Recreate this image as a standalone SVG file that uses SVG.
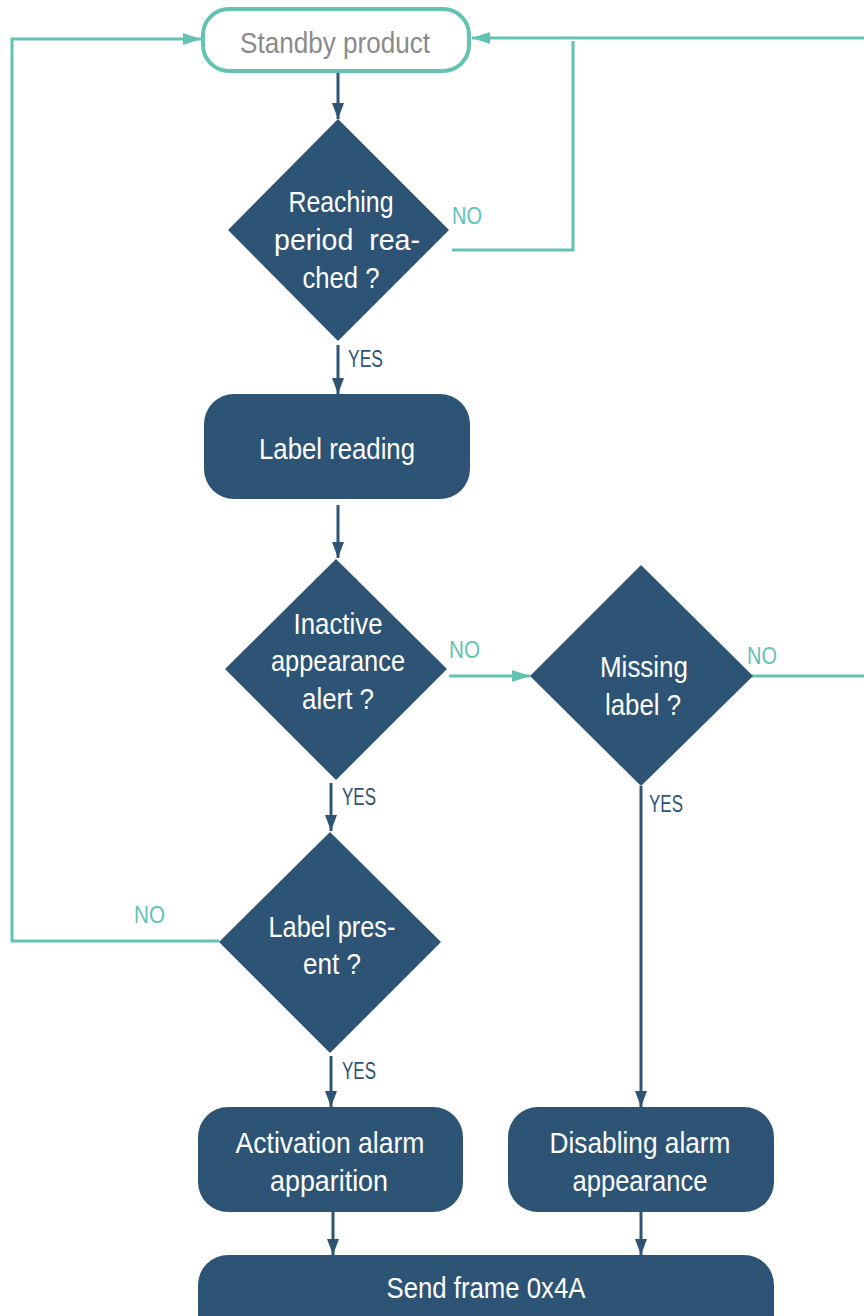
<svg xmlns="http://www.w3.org/2000/svg" width="864" height="1316" viewBox="0 0 864 1316">
<style>
.box{fill:#2E5475;}
.dia{fill:#2E5475;}
.t{font-family:"Liberation Sans",Arial,sans-serif;font-size:30px;fill:#ffffff;text-anchor:middle;}
.lbl{font-family:"Liberation Sans",Arial,sans-serif;font-size:23px;}
.no{fill:#62C3B3;}
.yes{fill:#2E5475;}
.cd{fill:none;stroke:#2E5475;stroke-width:3;}
.ct{fill:none;stroke:#62C3B3;stroke-width:3;}
</style>
<defs>
<marker id="ad" markerUnits="userSpaceOnUse" viewBox="0 0 16 12" markerWidth="16" markerHeight="12" refX="16" refY="6" orient="auto">
<path d="M0,0 L16,6 L0,12 Z" fill="#2E5475"/>
</marker>
<marker id="at" markerUnits="userSpaceOnUse" viewBox="0 0 18 12" markerWidth="18" markerHeight="12" refX="18" refY="6" orient="auto">
<path d="M0,0 L18,6 L0,12 Z" fill="#62C3B3"/>
</marker>
</defs>
<rect width="864" height="1316" fill="#ffffff"/>
<g id="connectors">
<line class="cd" x1="338" y1="72" x2="338" y2="119" marker-end="url(#ad)"/>
<line class="cd" x1="338" y1="345" x2="338" y2="394" marker-end="url(#ad)"/>
<line class="cd" x1="338" y1="505" x2="338" y2="558" marker-end="url(#ad)"/>
<line class="cd" x1="331" y1="783" x2="331" y2="831" marker-end="url(#ad)"/>
<line class="cd" x1="331" y1="1056" x2="331" y2="1107" marker-end="url(#ad)"/>
<line class="cd" x1="641" y1="786" x2="641" y2="1107" marker-end="url(#ad)"/>
<line class="cd" x1="333" y1="1212" x2="333" y2="1255" marker-end="url(#ad)"/>
<line class="cd" x1="641" y1="1212" x2="641" y2="1255" marker-end="url(#ad)"/>
<polyline class="ct" points="452,250 573,250 573,41"/>
<polyline class="ct" points="752,676 880,676 880,38 472,38" marker-end="url(#at)"/>
<polyline class="ct" points="219,941 12,941 12,39 201,39" marker-end="url(#at)"/>
<line class="ct" x1="449" y1="676" x2="530" y2="676" marker-end="url(#at)"/>
<text class="lbl no" x="452" y="224" textLength="30" lengthAdjust="spacingAndGlyphs">NO</text>
<text class="lbl no" x="449" y="658" textLength="31" lengthAdjust="spacingAndGlyphs">NO</text>
<text class="lbl no" x="747" y="664" textLength="30" lengthAdjust="spacingAndGlyphs">NO</text>
<text class="lbl no" x="134" y="923" textLength="31" lengthAdjust="spacingAndGlyphs">NO</text>
<text class="lbl yes" x="348" y="367" textLength="35" lengthAdjust="spacingAndGlyphs">YES</text>
<text class="lbl yes" x="342" y="805" textLength="34" lengthAdjust="spacingAndGlyphs">YES</text>
<text class="lbl yes" x="649" y="812" textLength="34" lengthAdjust="spacingAndGlyphs">YES</text>
<text class="lbl yes" x="342" y="1079" textLength="34" lengthAdjust="spacingAndGlyphs">YES</text>
</g>
<g id="standby">
<rect x="203" y="9" width="266" height="62" rx="26" fill="#ffffff" stroke="#62C3B3" stroke-width="4"/>
<text class="t" x="335" y="53" style="fill:#8a8a8a" textLength="190" lengthAdjust="spacingAndGlyphs">Standby product</text>
</g>
<g id="reaching">
<polygon class="dia" points="338,119 449,230 338,341 228,230"/>
<text class="t" x="341" y="212" textLength="105" lengthAdjust="spacingAndGlyphs">Reaching</text>
<text class="t" x="347" y="250" style="white-space:pre" textLength="146" lengthAdjust="spacingAndGlyphs">period  rea-</text>
<text class="t" x="341" y="288" textLength="77" lengthAdjust="spacingAndGlyphs">ched ?</text>
</g>
<g id="labelreading">
<rect class="box" x="204" y="394" width="266" height="105" rx="30"/>
<text class="t" x="337" y="459" textLength="156" lengthAdjust="spacingAndGlyphs">Label reading</text>
</g>
<g id="inactive">
<polygon class="dia" points="336,559 447,669 336,780 225,669"/>
<text class="t" x="338" y="634" textLength="89" lengthAdjust="spacingAndGlyphs">Inactive</text>
<text class="t" x="338" y="671" textLength="134" lengthAdjust="spacingAndGlyphs">appearance</text>
<text class="t" x="338" y="709" textLength="72" lengthAdjust="spacingAndGlyphs">alert ?</text>
</g>
<g id="missing">
<polygon class="dia" points="641,565 753,676 641,786 530,676"/>
<text class="t" x="644" y="677" textLength="88" lengthAdjust="spacingAndGlyphs">Missing</text>
<text class="t" x="643" y="715" textLength="76" lengthAdjust="spacingAndGlyphs">label ?</text>
</g>
<g id="present">
<polygon class="dia" points="330,832 441,942 330,1053 219,942"/>
<text class="t" x="332" y="937" textLength="127" lengthAdjust="spacingAndGlyphs">Label pres-</text>
<text class="t" x="332" y="974" textLength="58" lengthAdjust="spacingAndGlyphs">ent ?</text>
</g>
<g id="activation">
<rect class="box" x="198" y="1107" width="265" height="105" rx="30"/>
<text class="t" x="330" y="1153" textLength="189" lengthAdjust="spacingAndGlyphs">Activation alarm</text>
<text class="t" x="329" y="1191" textLength="118" lengthAdjust="spacingAndGlyphs">apparition</text>
</g>
<g id="disabling">
<rect class="box" x="508" y="1107" width="266" height="105" rx="30"/>
<text class="t" x="640" y="1153" textLength="181" lengthAdjust="spacingAndGlyphs">Disabling alarm</text>
<text class="t" x="640" y="1191" textLength="135" lengthAdjust="spacingAndGlyphs">appearance</text>
</g>
<g id="send">
<rect class="box" x="198" y="1255" width="576" height="100" rx="30"/>
<text class="t" x="486" y="1298" textLength="199" lengthAdjust="spacingAndGlyphs">Send frame 0x4A</text>
</g>
</svg>
